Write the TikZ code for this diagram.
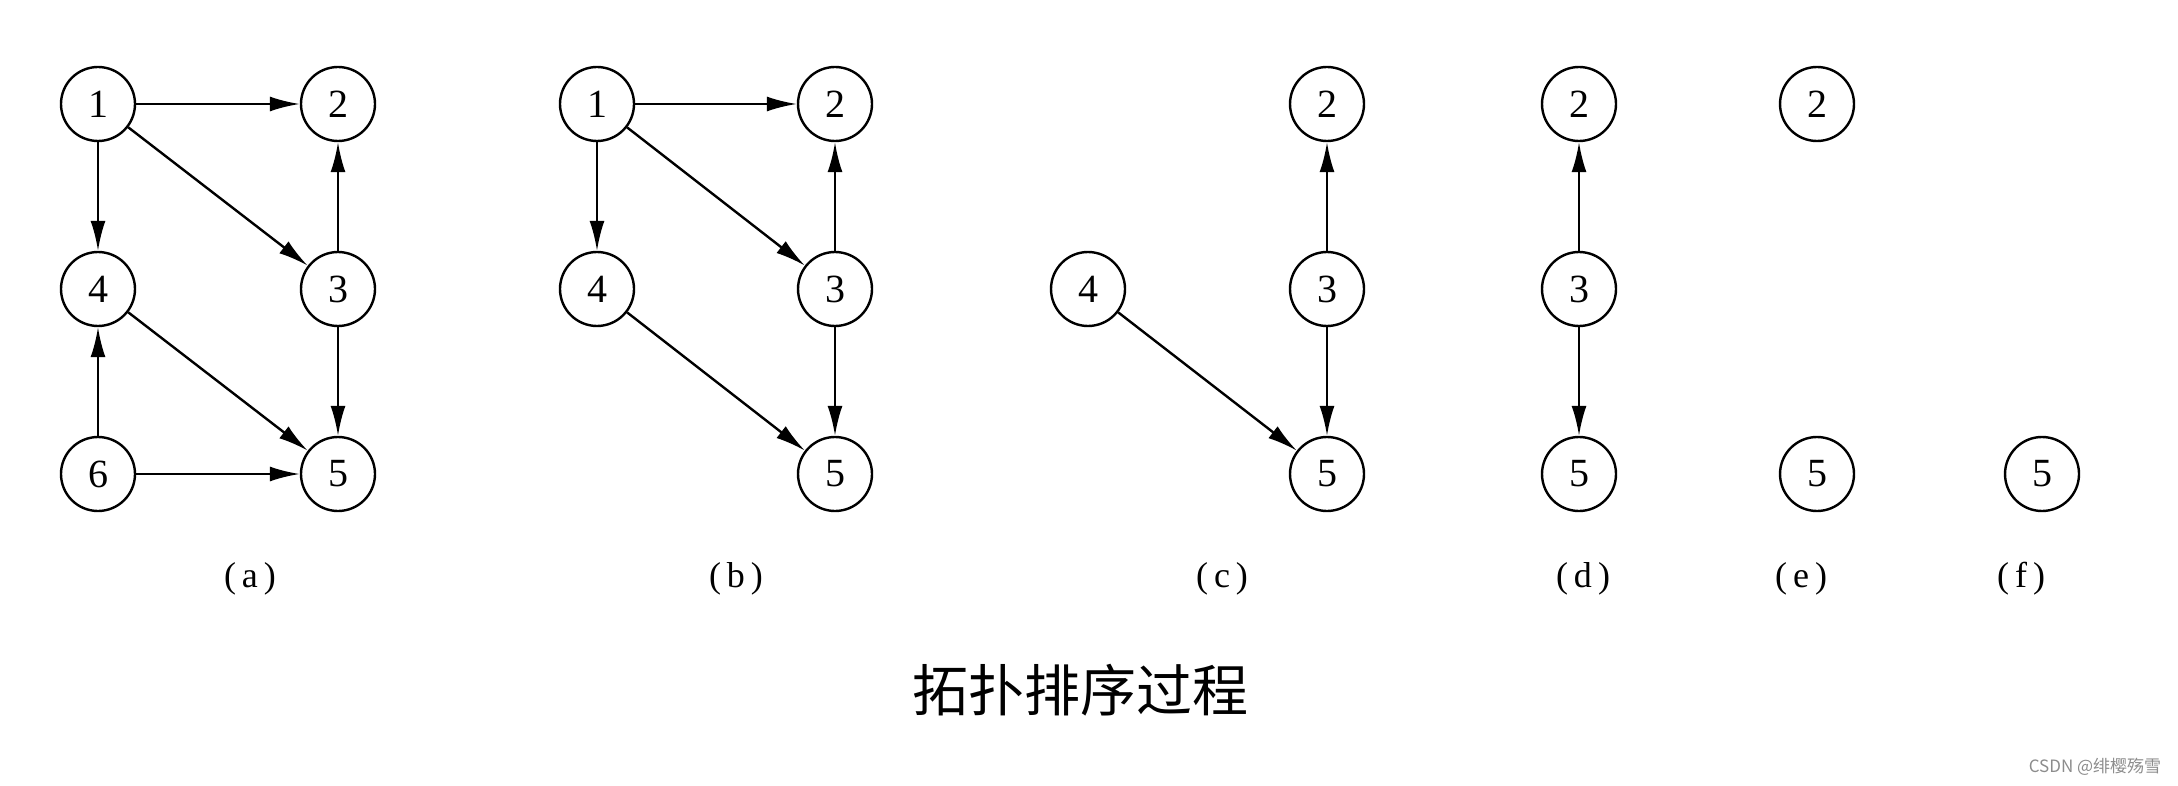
\documentclass[tikz,border=0pt]{standalone}
\usepackage{fontspec}
\setmainfont{Liberation Serif}
\newfontfamily\cjk{Noto Sans CJK SC}
\usetikzlibrary{arrows.meta}
\tikzset{
  vtx/.style={circle,draw,line width=2.4pt,minimum size=74pt,inner sep=0pt,font=\fontsize{40}{40}\selectfont},
  edge/.style={line width=2.4pt,-{Latex[length=30pt,width=15pt]}},
  sublabel/.style={font=\fontsize{36}{36}\selectfont},
}
\begin{document}
\begin{tikzpicture}[x=1pt,y=-1pt]
\useasboundingbox (0,0) rectangle (2178,786);
% (a)
\node[vtx] (a1) at (98,104) {1};
\node[vtx] (a2) at (338,104) {2};
\node[vtx] (a4) at (98,289) {4};
\node[vtx] (a3) at (338,289) {3};
\node[vtx] (a6) at (98,474) {6};
\node[vtx] (a5) at (338,474) {5};
\draw[edge] (a1) -- (a2);
\draw[edge] (a1) -- (a4);
\draw[edge] (a1) -- (a3);
\draw[edge] (a3) -- (a2);
\draw[edge] (a3) -- (a5);
\draw[edge] (a4) -- (a5);
\draw[edge] (a6) -- (a4);
\draw[edge] (a6) -- (a5);
\node[sublabel] (la) at (250,579) {(\,a\,)};
% (b)
\node[vtx] (b1) at (597,104) {1};
\node[vtx] (b2) at (835,104) {2};
\node[vtx] (b4) at (597,289) {4};
\node[vtx] (b3) at (835,289) {3};
\node[vtx] (b5) at (835,474) {5};
\draw[edge] (b1) -- (b2);
\draw[edge] (b1) -- (b4);
\draw[edge] (b1) -- (b3);
\draw[edge] (b3) -- (b2);
\draw[edge] (b3) -- (b5);
\draw[edge] (b4) -- (b5);
\node[sublabel] (lb) at (736,579) {(\,b\,)};
% (c)
\node[vtx] (c2) at (1327,104) {2};
\node[vtx] (c4) at (1088,289) {4};
\node[vtx] (c3) at (1327,289) {3};
\node[vtx] (c5) at (1327,474) {5};
\draw[edge] (c3) -- (c2);
\draw[edge] (c3) -- (c5);
\draw[edge] (c4) -- (c5);
\node[sublabel] (lc) at (1222,579) {(\,c\,)};
% (d)
\node[vtx] (d2) at (1579,104) {2};
\node[vtx] (d3) at (1579,289) {3};
\node[vtx] (d5) at (1579,474) {5};
\draw[edge] (d3) -- (d2);
\draw[edge] (d3) -- (d5);
\node[sublabel] (ld) at (1583,579) {(\,d\,)};
% (e)
\node[vtx] (e2) at (1817,104) {2};
\node[vtx] (e5) at (1817,474) {5};
\node[sublabel] (le) at (1801,579) {(\,e\,)};
% (f)
\node[vtx] (f5) at (2042,474) {5};
\node[sublabel] (lf) at (2021,579) {(\,f\,)};
% title
\node[font=\cjk\fontsize{56}{56}\selectfont] (title) at (1080,690) {拓扑排序过程};
\node[font=\cjk\fontsize{17}{17}\selectfont,text=black!45] (wm) at (2095,767) {CSDN @绯樱殇雪};
\end{tikzpicture}
\end{document}
